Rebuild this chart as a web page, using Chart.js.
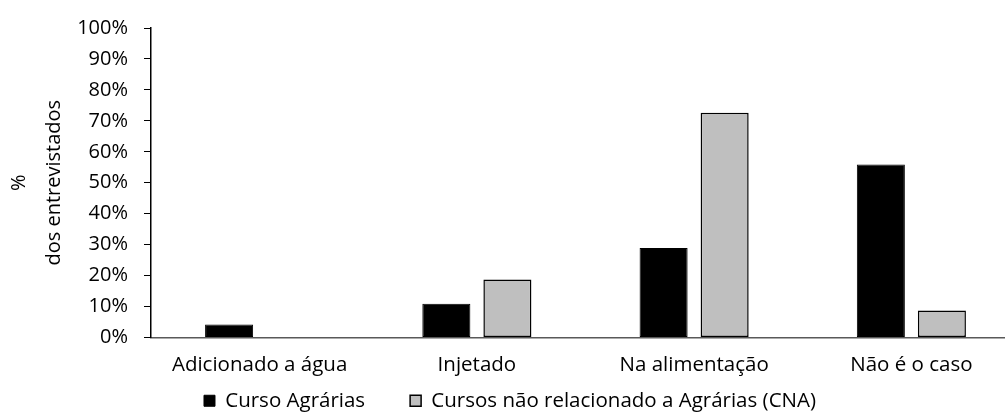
<!DOCTYPE html>
<html>
<head>
<meta charset="utf-8">
<script src="https://cdn.jsdelivr.net/npm/chart.js@4"></script>
<style>
  html, body { margin: 0; padding: 0; background: #fff; overflow: hidden; }
  #wrap { width: 1020px; height: 412px; }
</style>
</head>
<body>
<div id="wrap"><canvas id="grafico"></canvas></div>
<script>
// dados (% dos entrevistados)
const categorias = ['Adicionado a água', 'Injetado', 'Na alimentação', 'Não é o caso'];
const agrarias = [4.2, 10.9, 28.9, 55.9];
const cna = [0, 18.7, 72.6, 8.7];
const ticksY = [0, 10, 20, 30, 40, 50, 60, 70, 80, 90, 100];

const fonte = "'Open Sans', 'Noto Sans', sans-serif";
Chart.defaults.font.family = fonte;
Chart.defaults.font.size = 20;
Chart.defaults.color = '#000';

const ctx = document.getElementById('grafico');

new Chart(ctx, {
    type: 'bar',
    data: {
        labels: categorias,
        datasets: [{
            label: 'Curso Agrárias',
            data: agrarias,
            backgroundColor: '#000000',
            borderColor: '#000000',
            borderWidth: 1
        }, {
            label: 'Cursos não relacionado a Agrárias (CNA)',
            data: cna,
            backgroundColor: '#bfbfbf',
            borderColor: '#000000',
            borderWidth: 1.5
        }]
    },
    options: {
        responsive: true,
        maintainAspectRatio: false,
        animation: false,
        layout: { padding: { top: 9, bottom: -9, left: 0, right: 0 } },
        datasets: {
            bar: { categoryPercentage: 0.562, barPercentage: 0.787, borderSkipped: false }
        },
        plugins: {
            tooltip: { enabled: false },
            legend: {
                position: 'bottom',
                labels: {
                    boxWidth: 11,
                    boxHeight: 11,
                    padding: 4,
                    font: { size: 20.5 },
                    // espaço extra entre os itens da legenda
                    generateLabels: (chart) => {
                        const itens = Chart.defaults.plugins.legend.labels.generateLabels(chart);
                        itens[0].text = itens[0].text + '\u2002\u2002\u2002\u2002';
                        return itens;
                    }
                }
            }
        },
        scales: {
            x: {
                grid: { display: false, drawTicks: false, tickLength: 0 },
                border: { color: '#595959', width: 1.5 },
                afterFit: (scale) => { scale.height = 49; },
                ticks: { padding: 15, font: { size: 20.5 } }
            },
            y: {
                min: 0,
                max: 100,
                afterBuildTicks: (scale) => {
                    scale.ticks = ticksY.map(v => ({ value: v }));
                },
                afterFit: (scale) => { scale.width = 151; },
                grid: {
                    drawOnChartArea: false,
                    drawTicks: true,
                    tickLength: 7,
                    color: '#000'
                },
                border: { color: '#000', width: 1.5 },
                ticks: {
                    padding: 16,
                    font: { size: 20 },
                    callback: (v) => v + '%'
                },
                title: {
                    display: true,
                    text: ['%', 'dos entrevistados'],
                    padding: { top: 2, bottom: 0 },
                    font: { size: 20, lineHeight: 1.75 }
                }
            }
        }
    }
});
</script>
</body>
</html>
